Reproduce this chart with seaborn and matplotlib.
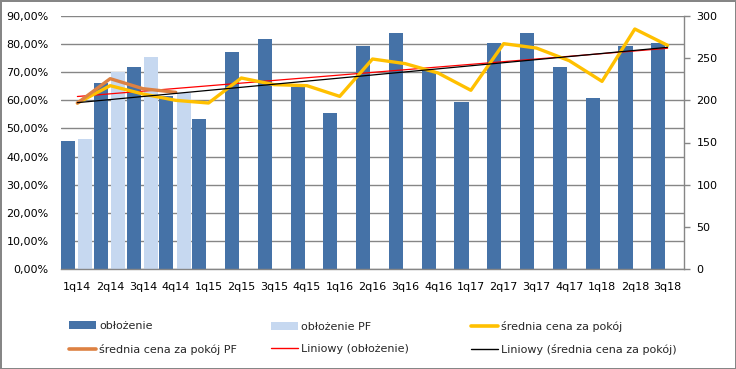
import numpy as np
import pandas as pd
import matplotlib
matplotlib.use("Agg")
import matplotlib.pyplot as plt
from matplotlib.patches import Patch
from matplotlib.lines import Line2D
from matplotlib.ticker import FuncFormatter, MultipleLocator
import seaborn as sns

categories = ["1q14", "2q14", "3q14", "4q14", "1q15", "2q15", "3q15", "4q15", "1q16",
              "2q16", "3q16", "4q16", "1q17", "2q17", "3q17", "4q17", "1q18", "2q18", "3q18"]
oblozenie = [45.6, 66.3, 72.0, 61.4, 53.5, 77.3, 81.9, 64.6, 55.6,
             79.4, 84.1, 70.3, 59.5, 80.5, 84.1, 72.0, 60.9, 79.4, 80.5]
oblozenie_pf = [46.4, 70.2, 75.5, 62.5]
cena = [196.8, 217.4, 207.5, 200.0, 196.8, 226.5, 218.6, 217.4, 204.7,
        249.0, 243.5, 232.4, 211.9, 267.2, 262.0, 247.0, 222.5, 284.6, 265.2]
cena_pf = [196.8, 225.7, 213.8, 209.5]

C_DARK = "#4572A7"
C_LIGHT = "#C6D8F0"
C_YEL = "#FFC000"
C_ORG = "#DD8142"
GRID = "#868686"

sns.set_theme(style="white")
plt.rcParams["font.family"] = ["DejaVu Sans"]

fig = plt.figure(figsize=(7.36, 3.69), dpi=100, facecolor="white",
                 edgecolor=GRID, linewidth=1.0)
ax = fig.add_axes([61 / 736, 1 - 269 / 369, 623 / 736, 253 / 369])

bars = pd.DataFrame({
    "kw": categories + categories[:len(oblozenie_pf)],
    "val": oblozenie + oblozenie_pf,
    "seria": ["obłożenie"] * len(oblozenie) + ["obłożenie PF"] * len(oblozenie_pf),
})
sns.barplot(data=bars, x="kw", y="val", hue="seria", order=categories,
            hue_order=["obłożenie", "obłożenie PF"],
            palette=[C_DARK, C_LIGHT], width=0.98, gap=0.12, dodge=True,
            saturation=1, legend=False, ax=ax, zorder=2,
            linewidth=0, edgecolor="none")
# shift slightly toward Excel layout
for p in ax.patches:
    if p.get_facecolor()[:3] == matplotlib.colors.to_rgb(C_DARK):
        p.set_x(p.get_x() - 0.04)

ax.set_ylim(0, 90)
ax.set_xlim(-0.5, len(categories) - 0.5)
ax.yaxis.set_major_locator(MultipleLocator(10))
ax.yaxis.set_major_formatter(FuncFormatter(lambda v, p: f"{v:.2f}%".replace(".", ",")))
ax.grid(axis="y", color=GRID, linewidth=1)
ax.grid(axis="x", visible=False)
ax.set_axisbelow(True)
ax.set_xlabel("")
ax.set_ylabel("")
for s in ["top", "left", "right"]:
    ax.spines[s].set_visible(False)
ax.spines["bottom"].set_color(GRID)
ax.spines["bottom"].set_linewidth(1)
ax.tick_params(axis="y", length=0, pad=9, labelsize=8, colors="black")
ax.tick_params(axis="x", length=0, pad=9, labelsize=8, colors="black")

x = np.arange(len(categories))
# trend of occupancy
k1, b1 = np.polyfit(x, oblozenie, 1)
ax.plot(x, k1 * x + b1, color="#FF0000", linewidth=0.9, zorder=5)

ax2 = ax.twinx()
ax2.set_ylim(0, 300)
ax2.yaxis.set_major_locator(MultipleLocator(50))
sns.lineplot(x=x, y=cena, color=C_YEL, linewidth=2.4, ax=ax2, zorder=3)
sns.lineplot(x=x[:len(cena_pf)], y=cena_pf, color=C_ORG, linewidth=2.4, ax=ax2, zorder=4)
k2, b2 = np.polyfit(x, cena, 1)
ax2.plot(x, k2 * x + b2, color="black", linewidth=0.9, zorder=5)
ax2.grid(False)
for s in ["top", "left", "bottom"]:
    ax2.spines[s].set_visible(False)
ax2.spines["right"].set_color(GRID)
ax2.spines["right"].set_linewidth(1)
ax2.tick_params(axis="y", length=4, width=1, color=GRID, pad=5, labelsize=8, colors="black")
for t in ax2.get_yticklines():
    t.set_color(GRID)
ax2.set_xlabel("")
ax2.set_ylabel("")
ax2.set_xlim(-0.5, len(categories) - 0.5)

cols = [
    (69, [Patch(facecolor=C_DARK, edgecolor="none"), Line2D([], [], color=C_ORG, lw=2.6)],
     ["obłożenie", "średnia cena za pokój PF"]),
    (271, [Patch(facecolor=C_LIGHT, edgecolor="none"), Line2D([], [], color="#FF0000", lw=1)],
     ["obłożenie PF", "Liniowy (obłożenie)"]),
    (471, [Line2D([], [], color=C_YEL, lw=2.6), Line2D([], [], color="black", lw=1)],
     ["średnia cena za pokój", "Liniowy (średnia cena za pokój)"]),
]
for xpx, handles, labels in cols:
    fig.legend(handles, labels, loc="center left",
               bbox_to_anchor=(xpx / 736, 1 - 338 / 369), frameon=False,
               fontsize=8, handlelength=2.45, handleheight=0.75, handletextpad=0.25,
               borderpad=0, borderaxespad=0, labelspacing=1.15)

fig.savefig("out.png", dpi=100, facecolor=fig.get_facecolor(), edgecolor=fig.get_edgecolor())
